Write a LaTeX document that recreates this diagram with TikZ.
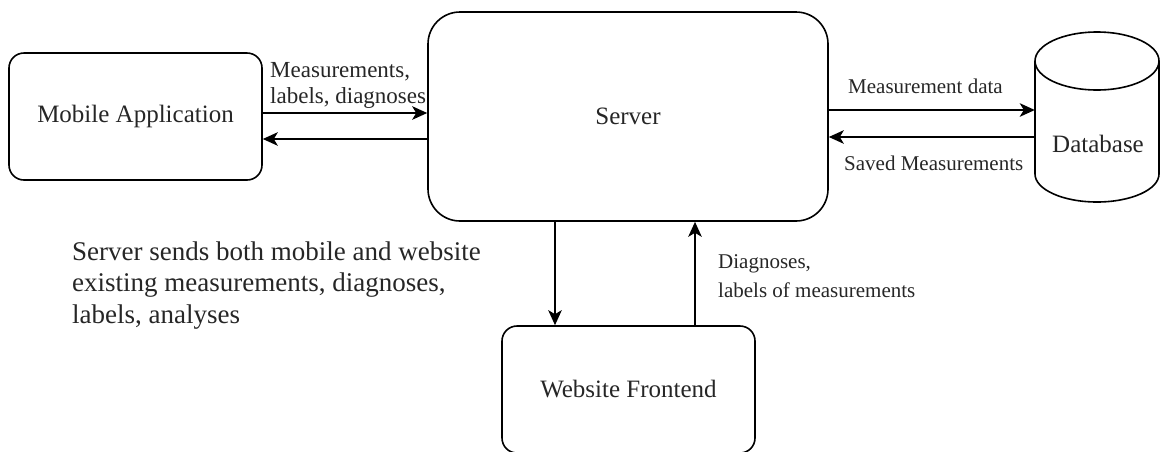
\documentclass[tikz,border=0pt]{standalone}
\usepackage{fontspec}
\setmainfont{Liberation Serif}
\usetikzlibrary{arrows.meta}
\begin{document}
\begin{tikzpicture}[x=1pt,y=-1pt,
  box/.style={draw, line width=1.6pt, rounded corners=15pt,
    minimum width=253pt, minimum height=127pt, inner sep=0pt,
    font=\fontsize{25}{30}\selectfont, text=black!85},
  flow/.style={line width=1.9pt, -{Stealth[length=15pt,width=13.5pt,inset=4pt]}},
  lbl/.style={inner sep=0pt, align=left, text=black!85},
]
\useasboundingbox (0,0) rectangle (1161,451);

% boxes
\node[box] (mob) at (135.5,116.5) {Mobile Application};
\node[box, minimum width=400pt, minimum height=209pt, rounded corners=32pt] (srv) at (628,116.5) {Server};
\node[box] (web) at (628.5,389.5) {Website Frontend};

% database cylinder
\node[minimum width=124pt, minimum height=170pt, inner sep=0pt] (db) at (1097,117) {};
\draw[line width=1.6pt] (1035,61) -- (1035,174)
  arc[start angle=180, end angle=360, x radius=62pt, y radius=28pt] -- (1159,61);
\draw[line width=1.6pt] (1097,61) ellipse [x radius=62pt, y radius=29pt];
\node[inner sep=0pt, font=\fontsize{25}{30}\selectfont, text=black!85] (dbtext) at (1098,144) {Database};

% connectors
\draw[flow] ([yshift=3.5pt]mob.east) -- ([yshift=3.5pt]srv.west);
\draw[flow] ([yshift=-22.5pt]srv.west) -- ([yshift=-22.5pt]mob.east);
\draw[flow] ([yshift=6.5pt]srv.east) -- ([yshift=7pt]db.west);
\draw[flow] ([yshift=-20pt]db.west) -- ([yshift=-20.5pt]srv.east);
\draw[flow] ([xshift=-73pt]srv.south) -- ([xshift=-73.5pt]web.north);
\draw[flow] ([xshift=66.5pt]web.north) -- ([xshift=67pt]srv.south);

% labels
\node[lbl, anchor=north west, font=\fontsize{23}{26}\selectfont] (lmob) at (270,62)
  {Measurements,\\labels, diagnoses};
\node[lbl, anchor=base west, font=\fontsize{21}{25}\selectfont] (ldata) at (848,93) {Measurement data};
\node[lbl, anchor=base west, font=\fontsize{21}{25}\selectfont] (lsaved) at (844,170) {Saved Measurements};
\node[lbl, anchor=north west, font=\fontsize{21}{29}\selectfont] (lweb) at (718,254)
  {Diagnoses,\\labels of measurements};
\node[lbl, anchor=north west, font=\fontsize{27}{31.5}\selectfont] (note) at (72,241.5)
  {Server sends both mobile and website\\existing measurements, diagnoses,\\labels, analyses};
\end{tikzpicture}
\end{document}
